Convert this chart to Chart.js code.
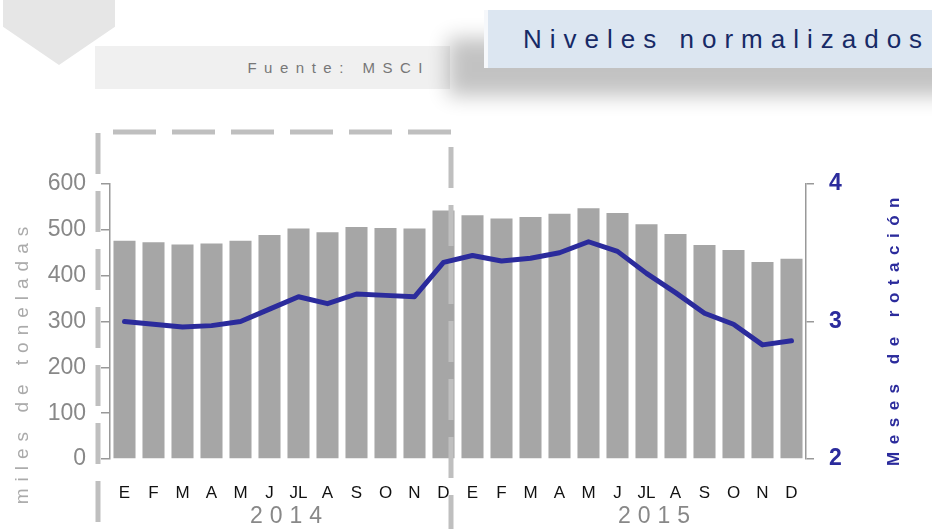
<!DOCTYPE html>
<html lang="es">
<head>
<meta charset="UTF-8">
<title>Niveles normalizados</title>
<script src="https://cdn.jsdelivr.net/npm/chart.js"></script>
<style>
    html, body {
        margin: 0;
        padding: 0;
        background: #fff;
        overflow: hidden;
        font-family: "Liberation Sans", Arial, sans-serif;
    }

    .page {
        position: relative;
        width: 932px;
        height: 529px;
        overflow: hidden;
    }

    .chevron {
        position: absolute;
        left: 3px;
        top: 0;
        width: 112px;
        height: 65px;
        background: #e6e6e6;
        clip-path: polygon(0 0, 100% 0, 100% 41%, 50% 100%, 0 41%);
    }

    .source {
        position: absolute;
        left: 95px;
        top: 46px;
        width: 355px;
        height: 43px;
        background: #f0f0f0;
        color: #777;
        font-size: 15px;
        letter-spacing: 7.5px;
        line-height: 43px;
        text-align: right;
        box-sizing: border-box;
        padding-right: 20px;
    }

    .title {
        position: absolute;
        left: 484px;
        top: 10px;
        width: 520px;
        height: 58px;
        background: #dce6f1;
        border-left: 4px solid #f6f8fb;
        box-sizing: border-box;
        box-shadow: -36px 28px 20px rgba(0, 0, 0, 0.24);
        color: #172a66;
        font-size: 26px;
        letter-spacing: 8px;
        line-height: 58px;
        padding-left: 35px;
        white-space: nowrap;
    }

    canvas {
        position: absolute;
        left: 0;
        top: 0;
    }

    .axis-title {
        position: absolute;
        width: 340px;
        height: 26px;
        line-height: 26px;
        text-align: center;
        transform: rotate(-90deg);
        white-space: nowrap;
    }

    #leftTitle {
        left: -148px;
        top: 349px;
        color: #aaa;
        font-size: 19px;
        letter-spacing: 7px;
    }

    #rightTitle {
        left: 724px;
        top: 315px;
        color: #2b2b9c;
        font-size: 17px;
        font-weight: bold;
        letter-spacing: 7.5px;
    }

    .year {
        position: absolute;
        width: 200px;
        top: 501px;
        line-height: 28px;
        text-align: center;
        color: #888;
        font-size: 23px;
        letter-spacing: 7px;
        padding-left: 7px;
        box-sizing: border-box;
    }
</style>
</head>
<body>
<div class="page">
    <div class="chevron"></div>
    <div class="source">Fuente: MSCI</div>
    <div class="title">Niveles normalizados</div>

    <canvas id="stockChart" width="932" height="529"></canvas>

    <div class="axis-title" id="leftTitle">miles de toneladas</div>
    <div class="axis-title" id="rightTitle">Meses de rotación</div>
    <div class="year" style="left:186px">2014</div>
    <div class="year" style="left:554px">2015</div>
</div>

<script>
    // month labels, two years
    const months = ['E', 'F', 'M', 'A', 'M', 'J', 'JL', 'A', 'S', 'O', 'N', 'D',
                    'E', 'F', 'M', 'A', 'M', 'J', 'JL', 'A', 'S', 'O', 'N', 'D'];

    // stock levels (miles de toneladas) - bars
    const stock = [476, 473, 468, 470, 476, 489, 503, 495, 506, 504, 503, 542,
                   532, 525, 528, 535, 547, 537, 512, 491, 467, 456, 430, 437];

    // months of rotation - line
    const rotation = [3.00, 2.98, 2.96, 2.97, 3.00, 3.09, 3.18, 3.13, 3.20, 3.19, 3.18, 3.43,
                      3.48, 3.44, 3.46, 3.50, 3.58, 3.51, 3.35, 3.21, 3.06, 2.98, 2.83, 2.86];

    const leftTicks = [0, 100, 200, 300, 400, 500, 600];
    const rightTicks = [2, 3, 4];

    const sans = "'Liberation Sans', Arial, sans-serif";

    // dashed frame around 2014, drawn between the bars and the line
    const dashedFrame = {
        id: 'dashedFrame',
        afterDatasetDraw(chart, args) {
            if (args.index !== 0) return;
            const ctx = chart.ctx;
            const x = chart.scales.x;
            const rightX = (x.getPixelForValue(11) + x.getPixelForValue(12)) / 2 - 7;
            ctx.save();
            ctx.strokeStyle = '#bfbfbf';
            ctx.lineWidth = 5;
            ctx.setLineDash([43, 16]);
            ctx.beginPath();
            ctx.moveTo(113, 132);
            ctx.lineTo(rightX, 132);
            ctx.stroke();
            ctx.setLineDash([41, 17]);
            ctx.beginPath();
            ctx.moveTo(98, 133);
            ctx.lineTo(98, 529);
            ctx.stroke();
            ctx.beginPath();
            ctx.moveTo(rightX, 147);
            ctx.lineTo(rightX, 529);
            ctx.stroke();
            ctx.restore();
        }
    };

    const ctx = document.getElementById('stockChart').getContext('2d');
    const stockChart = new Chart(ctx, {
        type: 'bar',
        data: {
            labels: months,
            datasets: [{
                type: 'bar',
                label: 'Stock',
                data: stock,
                yAxisID: 'y',
                backgroundColor: '#a6a6a6',
                categoryPercentage: 1,
                barPercentage: 0.76,
                order: 1
            }, {
                type: 'line',
                label: 'Rotación',
                data: rotation,
                yAxisID: 'y1',
                borderColor: '#2b2b9c',
                borderWidth: 5,
                pointRadius: 0,
                tension: 0,
                borderJoinStyle: 'round',
                borderCapStyle: 'round',
                order: 0
            }]
        },
        options: {
            responsive: false,
            animation: false,
            layout: {
                padding: { top: 184, bottom: 0, left: 0, right: 0 }
            },
            plugins: {
                legend: { display: false },
                tooltip: { enabled: false }
            },
            scales: {
                x: {
                    grid: { display: false },
                    border: { display: false },
                    ticks: {
                        color: '#111',
                        font: { size: 17, family: sans },
                        padding: 16,
                        maxRotation: 0,
                        autoSkip: false
                    },
                    afterFit(scale) { scale.height = 70; }
                },
                y: {
                    position: 'left',
                    min: 0,
                    max: 600,
                    afterBuildTicks(scale) { scale.ticks = leftTicks.map(v => ({ value: v })); },
                    grid: {
                        drawOnChartArea: false,
                        tickLength: 9,
                        color: '#999',
                        lineWidth: 1.5
                    },
                    border: { color: '#999', width: 1.5 },
                    ticks: {
                        color: '#888',
                        font: { size: 23, family: sans },
                        padding: 15
                    },
                    afterFit(scale) { scale.width = 110; }
                },
                y1: {
                    position: 'right',
                    min: 2,
                    max: 4,
                    afterBuildTicks(scale) { scale.ticks = rightTicks.map(v => ({ value: v })); },
                    grid: {
                        drawOnChartArea: false,
                        tickLength: 8,
                        color: '#999',
                        lineWidth: 1.5
                    },
                    border: { color: '#999', width: 1.5 },
                    ticks: {
                        color: '#2b2b9c',
                        font: { size: 23, weight: 'bold', family: sans },
                        padding: 15
                    },
                    afterFit(scale) { scale.width = 126; }
                }
            }
        },
        plugins: [dashedFrame]
    });
</script>
</body>
</html>
